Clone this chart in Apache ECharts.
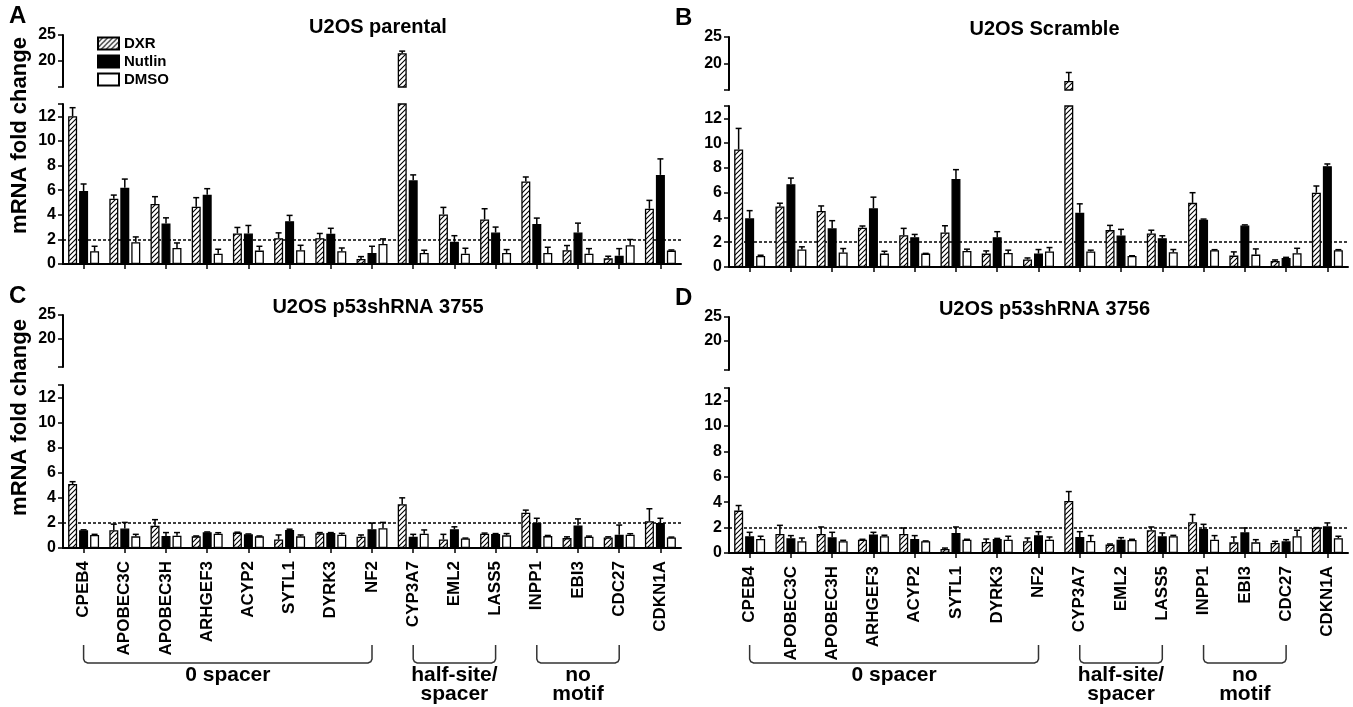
<!DOCTYPE html>
<html>
<head>
<meta charset="utf-8">
<script src="https://cdn.jsdelivr.net/npm/echarts@6/dist/echarts.min.js"></script>
<style>
  html, body { margin: 0; padding: 0; background: #fff; }
  #chart { width: 1353px; height: 707px; }
</style>
</head>
<body>
<div id="chart"></div>
<script>
// 基因名称
const genes = ['CPEB4', 'APOBEC3C', 'APOBEC3H', 'ARHGEF3', 'ACYP2', 'SYTL1', 'DYRK3', 'NF2',
  'CYP3A7', 'EML2', 'LASS5', 'INPP1', 'EBI3', 'CDC27', 'CDKN1A']
const lowerTicks = [0, 2, 4, 6, 8, 10, 12, 13]
const lowerLabels = [0, 2, 4, 6, 8, 10, 12]
const upperLabels = [20, 25]
const threshold = 2

// A: U2OS parental
const dxrA = [12.0, 5.3, 4.87, 4.65, 2.48, 2.1, 2.1, 0.41, 21.5, 4.03, 3.62, 6.7, 1.12, 0.46, 4.49]
const dxrErrA = [0.7, 0.3, 0.6, 0.74, 0.49, 0.43, 0.38, 0.19, 0.4, 0.57, 0.87, 0.37, 0.38, 0.17, 0.68]
const nutA = [5.93, 6.2, 3.3, 5.63, 2.48, 3.48, 2.45, 0.9, 6.8, 1.8, 2.56, 3.24, 2.56, 0.68, 7.24]
const nutErrA = [0.57, 0.7, 0.45, 0.49, 0.65, 0.47, 0.45, 0.54, 0.44, 0.5, 0.44, 0.49, 0.76, 0.57, 1.3]
const dmsoA = [1.03, 1.77, 1.3, 0.84, 1.09, 1.12, 1.03, 1.63, 0.9, 0.84, 0.9, 0.9, 0.84, 1.52, 1.09]
const dmsoErrA = [0.41, 0.43, 0.41, 0.36, 0.35, 0.4, 0.27, 0.41, 0.22, 0.44, 0.27, 0.46, 0.41, 0.47, 0.05]

// B: U2OS Scramble
const dxrB = [9.49, 4.88, 4.53, 3.17, 2.57, 2.79, 1.08, 0.6, 16.7, 2.98, 2.7, 5.18, 0.92, 0.49, 6.0]
const dxrErrB = [1.7, 0.27, 0.4, 0.14, 0.55, 0.54, 0.22, 0.13, 1.6, 0.38, 0.27, 0.82, 0.3, 0.08, 0.54]
const nutB = [3.93, 6.69, 3.12, 4.74, 2.41, 7.1, 2.41, 1.08, 4.39, 2.55, 2.33, 3.82, 3.35, 0.73, 8.14]
const nutErrB = [0.62, 0.49, 0.62, 0.9, 0.22, 0.76, 0.44, 0.33, 0.71, 0.49, 0.19, 0.05, 0.05, 0.05, 0.18]
const dmsoB = [0.89, 1.41, 1.17, 1.08, 1.08, 1.3, 1.14, 1.25, 1.25, 0.89, 1.19, 1.35, 1.0, 1.11, 1.35]
const dmsoErrB = [0.06, 0.22, 0.32, 0.19, 0.02, 0.14, 0.22, 0.32, 0.11, 0.02, 0.22, 0.05, 0.46, 0.4, 0.05]

// C: U2OS p53shRNA 3755
const dxrC = [5.1, 1.42, 1.77, 0.93, 1.23, 0.68, 1.17, 0.9, 3.49, 0.68, 1.14, 2.81, 0.79, 0.84, 2.13]
const dxrErrC = [0.19, 0.48, 0.49, 0.03, 0.03, 0.36, 0.06, 0.14, 0.51, 0.41, 0.05, 0.21, 0.1, 0.05, 1.0]
const nutC = [1.42, 1.55, 0.95, 1.25, 1.09, 1.44, 1.2, 1.5, 0.9, 1.5, 1.12, 1.99, 1.8, 1.06, 1.99]
const nutErrC = [0.03, 0.49, 0.28, 0.03, 0.03, 0.06, 0.03, 0.49, 0.19, 0.19, 0.03, 0.38, 0.52, 0.77, 0.38]
const dmsoC = [1.04, 0.93, 0.98, 1.14, 0.93, 0.93, 1.06, 1.58, 1.14, 0.76, 1.01, 0.95, 0.9, 1.06, 0.84]
const dmsoErrC = [0.05, 0.16, 0.25, 0.08, 0.03, 0.11, 0.11, 0.46, 0.3, 0.03, 0.14, 0.05, 0.05, 0.08, 0.03]

// D: U2OS p53shRNA 3756
const dxrD = [3.34, 1.5, 1.5, 1.05, 1.5, 0.32, 0.87, 0.92, 4.1, 0.66, 1.79, 2.42, 0.84, 0.79, 1.97]
const dxrErrD = [0.4, 0.68, 0.55, 0.03, 0.47, 0.07, 0.23, 0.26, 0.74, 0.05, 0.26, 0.61, 0.42, 0.13, 0.03]
const nutD = [1.32, 1.16, 1.24, 1.45, 1.1, 1.58, 1.1, 1.39, 1.26, 1.05, 1.32, 1.89, 1.63, 0.92, 2.1]
const nutErrD = [0.31, 0.21, 0.39, 0.18, 0.27, 0.47, 0.05, 0.29, 0.42, 0.16, 0.26, 0.37, 0.34, 0.13, 0.27]
const dmsoD = [1.1, 0.92, 0.92, 1.32, 0.92, 1.05, 1.05, 1.05, 0.95, 1.03, 1.32, 1.05, 0.84, 1.32, 1.16]
const dmsoErrD = [0.22, 0.26, 0.08, 0.08, 0.03, 0.03, 0.27, 0.21, 0.42, 0.05, 0.07, 0.32, 0.21, 0.47, 0.16]

// 分组（起止基因下标）
const groups = [
  { text: '0 spacer', from: 0, to: 7 },
  { text: 'half-site/\nspacer', from: 8, to: 10 },
  { text: 'no\nmotif', from: 11, to: 13 }
]

const FONT = '"Liberation Sans", Arial, Helvetica, sans-serif'

// 斜线填充
function hatch() {
  const c = document.createElement('canvas')
  c.width = 5
  c.height = 5
  const g = c.getContext('2d')
  g.fillStyle = '#fff'
  g.fillRect(0, 0, 5, 5)
  g.strokeStyle = '#000'
  g.lineWidth = 1.1
  g.beginPath()
  g.moveTo(-1, 6); g.lineTo(6, -1)
  g.moveTo(-1, 1); g.lineTo(1, -1)
  g.moveTo(4, 6); g.lineTo(6, 4)
  g.stroke()
  return c
}

const treat = [
  { name: 'DXR', fill: { image: hatch(), repeat: 'repeat' }, off: -11 },
  { name: 'Nutlin', fill: '#000', off: 0 },
  { name: 'DMSO', fill: '#fff', off: 11 }
]

const panels = [
  { title: 'U2OS parental', letter: 'A', vals: [dxrA, nutA, dmsoA], errs: [dxrErrA, nutErrA, dmsoErrA],
    lower: { left: 63, top: 104, width: 618, height: 160 }, upper: { left: 63, top: 35, width: 618, height: 52 },
    brk: 15, labels: false, yName: true },
  { title: 'U2OS Scramble', letter: 'B', vals: [dxrB, nutB, dmsoB], errs: [dxrErrB, nutErrB, dmsoErrB],
    lower: { left: 729, top: 106, width: 619, height: 161 }, upper: { left: 729, top: 37, width: 619, height: 53 },
    brk: 15, labels: false, yName: false },
  { title: 'U2OS p53shRNA 3755', letter: 'C', vals: [dxrC, nutC, dmsoC], errs: [dxrErrC, nutErrC, dmsoErrC],
    lower: { left: 63, top: 385, width: 618, height: 163 }, upper: { left: 63, top: 315, width: 618, height: 52 },
    brk: 14, labels: true, yName: true },
  { title: 'U2OS p53shRNA 3756', letter: 'D', vals: [dxrD, nutD, dmsoD], errs: [dxrErrD, nutErrD, dmsoErrD],
    lower: { left: 729, top: 388, width: 619, height: 165 }, upper: { left: 729, top: 317, width: 619, height: 53 },
    brk: 14, labels: true, yName: false }
]

function errSeries(axisIdx, data, off) {
  return {
    type: 'custom',
    xAxisIndex: axisIdx,
    yAxisIndex: axisIdx,
    data: data,
    clip: true,
    silent: true,
    z: 3,
    renderItem(params, api) {
      const i = api.value(0)
      const v = api.value(1)
      const e = api.value(2)
      const p0 = api.coord([i, v])
      const p1 = api.coord([i, v + e])
      const x = p0[0] + off
      return {
        type: 'group',
        children: [
          { type: 'line', shape: { x1: x, y1: p0[1], x2: x, y2: p1[1] }, style: { stroke: '#000', lineWidth: 1.5 } },
          { type: 'line', shape: { x1: x - 3, y1: p1[1], x2: x + 3, y2: p1[1] }, style: { stroke: '#000', lineWidth: 1.5 } }
        ]
      }
    }
  }
}

const axisFont = { fontFamily: FONT, fontWeight: 'bold', fontSize: 16, color: '#000' }
const grid = []
const xAxis = []
const yAxis = []
const series = []

panels.forEach((p) => {
  const gl = grid.length
  grid.push(p.lower, p.upper)
  xAxis.push({
    gridIndex: gl, type: 'category', data: genes,
    axisLine: { show: true, lineStyle: { color: '#000', width: 2 } },
    axisTick: { show: true, alignWithLabel: true, length: 5, lineStyle: { color: '#000', width: 1.5 } },
    axisLabel: { show: p.labels, rotate: 90, margin: 13, interval: 0, fontFamily: FONT, fontWeight: 'bold', fontSize: 17, color: '#000' },
    splitLine: { show: false }
  })
  xAxis.push({ gridIndex: gl + 1, type: 'category', data: genes, show: false })
  yAxis.push({
    gridIndex: gl, type: 'value', min: 0, max: 13,
    axisLine: { show: true, lineStyle: { color: '#000', width: 2 } },
    axisTick: { show: true, length: 5, customValues: lowerTicks, lineStyle: { color: '#000', width: 1.5 } },
    axisLabel: Object.assign({ margin: 7, customValues: lowerLabels }, axisFont),
    splitLine: { show: false }
  })
  yAxis.push({
    gridIndex: gl + 1, type: 'value', min: p.brk, max: 25,
    axisLine: { show: true, lineStyle: { color: '#000', width: 2 } },
    axisTick: { show: true, length: 5, customValues: [p.brk].concat(upperLabels), lineStyle: { color: '#000', width: 1.5 } },
    axisLabel: Object.assign({ margin: 7, customValues: upperLabels }, axisFont),
    splitLine: { show: false }
  })
  treat.forEach((t, j) => {
    const v = p.vals[j]
    const e = p.errs[j]
    const style = { color: t.fill, borderColor: '#000', borderWidth: 1.3 }
    const lowerBar = {
      type: 'bar', name: t.name, xAxisIndex: gl, yAxisIndex: gl, data: v,
      barWidth: 9, barGap: '22%', itemStyle: style, silent: true, z: 2
    }
    if (j === 0) {
      lowerBar.markLine = {
        silent: true, symbol: 'none', label: { show: false }, z: 1,
        lineStyle: { type: [3, 2], color: '#000', width: 1.5 },
        data: [{ yAxis: threshold }]
      }
    }
    series.push(lowerBar)
    series.push({
      type: 'bar', name: t.name, xAxisIndex: gl + 1, yAxisIndex: gl + 1,
      data: v.map((x) => (x > p.brk ? x : '-')),
      barWidth: 9, barGap: '22%', itemStyle: style, silent: true, z: 2
    })
    series.push(errSeries(gl, v.map((x, i) => [i, x, e[i]]), t.off))
    series.push(errSeries(gl + 1, v.map((x, i) => [i, x, e[i]]).filter((d) => d[1] > p.brk), t.off))
  })
})

const chart = echarts.init(document.getElementById('chart'))
chart.setOption({
  animation: false,
  backgroundColor: '#fff',
  legend: {
    data: treat.map((t) => t.name),
    orient: 'vertical', left: 92, top: 31,
    itemWidth: 21, itemHeight: 12, itemGap: 3, icon: 'rect',
    selectedMode: false,
    textStyle: { fontFamily: FONT, fontWeight: 'bold', fontSize: 15, color: '#000' }
  },
  grid: grid,
  xAxis: xAxis,
  yAxis: yAxis,
  series: series
})

// 标题、字母、括号等
const graphic = []
panels.forEach((p, k) => {
  const gl = k * 2
  graphic.push({
    type: 'text', x: p.lower.left + p.lower.width / 2 + 6, y: p.upper.top - 8,
    style: { text: p.title, fill: '#000', font: 'bold 20px ' + FONT, textAlign: 'center', textVerticalAlign: 'middle' }
  })
  graphic.push({
    type: 'text', x: p.lower.left - 54, y: p.upper.top - 19,
    style: { text: p.letter, fill: '#000', font: 'bold 24px ' + FONT, textAlign: 'left', textVerticalAlign: 'middle' }
  })
  if (p.yName) {
    graphic.push({
      type: 'text', x: 20, y: (p.upper.top + p.lower.top + p.lower.height) / 2 - 14, rotation: Math.PI / 2,
      style: { text: 'mRNA fold change', fill: '#000', font: 'bold 22px ' + FONT, textAlign: 'center', textVerticalAlign: 'middle' }
    })
  }
  if (p.labels) {
    groups.forEach((g) => {
      const x1 = chart.convertToPixel({ xAxisIndex: gl }, genes[g.from])
      const x2 = chart.convertToPixel({ xAxisIndex: gl }, genes[g.to])
      const yt = 645
      const yb = 663
      graphic.push({
        type: 'polyline',
        shape: { points: [[x1, yt], [x1, yb - 4], [x1 + 1.2, yb - 1.2], [x1 + 4, yb], [x2 - 4, yb], [x2 - 1.2, yb - 1.2], [x2, yb - 4], [x2, yt]] },
        style: { stroke: '#333', lineWidth: 1.5, fill: null }
      })
      graphic.push({
        type: 'text', x: (x1 + x2) / 2, y: 666,
        style: { text: g.text, fill: '#000', font: 'bold 21px ' + FONT, lineHeight: 19, textAlign: 'center', textVerticalAlign: 'top' }
      })
    })
  }
})
chart.setOption({ graphic: graphic })
</script>
</body>
</html>
